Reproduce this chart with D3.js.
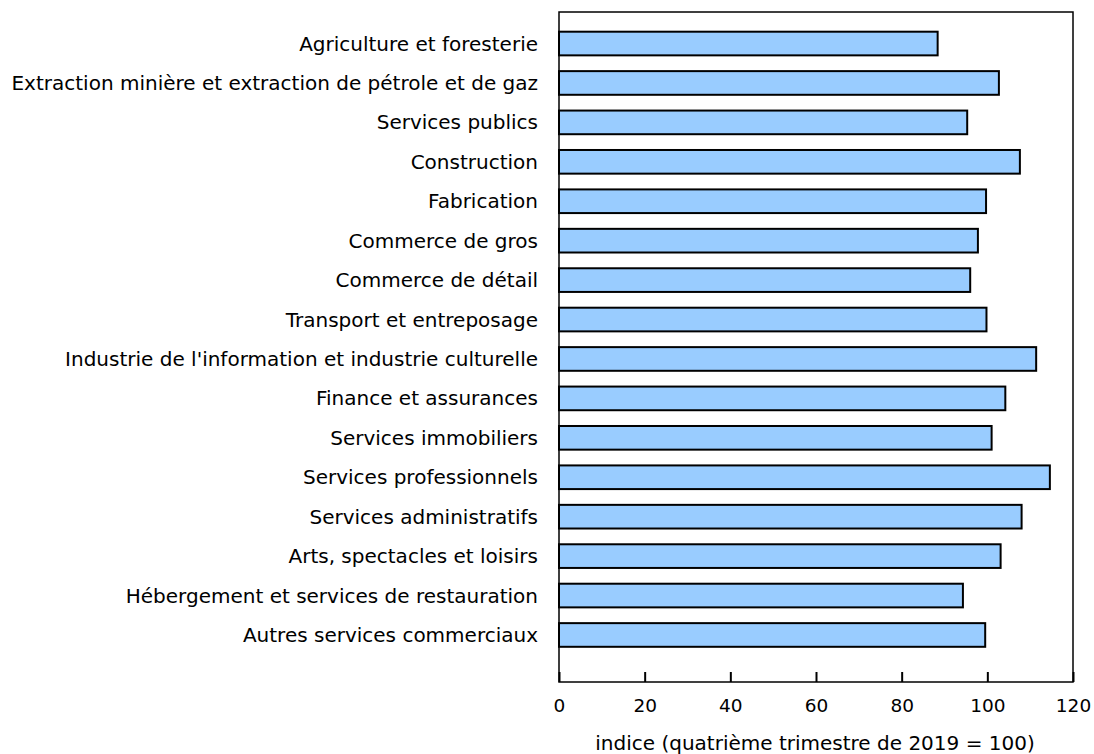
<!DOCTYPE html>
<html>
<head>
<meta charset="utf-8">
<script src="https://cdn.jsdelivr.net/npm/d3@7/dist/d3.min.js"></script>
<style>
  body { margin: 0; background: #fff; }
  svg { display: block; }
  text { font-family: "DejaVu Sans", Verdana, sans-serif; fill: #000; }
</style>
</head>
<body>
<svg id="chart" width="1094" height="754"></svg>
<script>
const categories = [
  "Agriculture et foresterie",
  "Extraction minière et extraction de pétrole et de gaz",
  "Services publics",
  "Construction",
  "Fabrication",
  "Commerce de gros",
  "Commerce de détail",
  "Transport et entreposage",
  "Industrie de l'information et industrie culturelle",
  "Finance et assurances",
  "Services immobiliers",
  "Services professionnels",
  "Services administratifs",
  "Arts, spectacles et loisirs",
  "Hébergement et services de restauration",
  "Autres services commerciaux"
];
const values = [88.4, 102.7, 95.3, 107.6, 99.7, 97.8, 96.0, 99.8, 111.4, 104.2, 101.0, 114.6, 108.0, 103.1, 94.3, 99.5];
const xTicks = [0, 20, 40, 60, 80, 100, 120];
const xTitle = "indice (quatrième trimestre de 2019 = 100)";

const svg = d3.select("#chart");
const frame = { left: 559, right: 1073, top: 12, bottom: 682 };

const x = d3.scaleLinear().domain([0, 120]).range([frame.left, frame.right]);
const y = d3.scaleBand().domain(categories).range([31.7, 646.8]).paddingInner(0.4).paddingOuter(0);

// bars
svg.append("g").selectAll("rect").data(values).join("rect")
  .attr("x", x(0))
  .attr("y", (d, i) => y(categories[i]))
  .attr("width", d => x(d) - x(0))
  .attr("height", y.bandwidth())
  .attr("fill", "#99CCFF")
  .attr("stroke", "#000")
  .attr("stroke-width", 2);

// frame
svg.append("rect")
  .attr("x", frame.left).attr("y", frame.top)
  .attr("width", frame.right - frame.left).attr("height", frame.bottom - frame.top)
  .attr("fill", "none").attr("stroke", "#000").attr("stroke-width", 1.5);

// x axis (ticks inward)
const xAxis = d3.axisBottom(x).tickValues(xTicks).tickSize(-10).tickPadding(17).tickFormat(d3.format("d"));
const gx = svg.append("g").attr("transform", `translate(0,${frame.bottom})`).call(xAxis);
gx.select(".domain").remove();
gx.selectAll(".tick line").attr("stroke", "#000").attr("stroke-width", 2);
gx.selectAll(".tick text").attr("font-size", 18.5).attr("font-family", '"DejaVu Sans", Verdana, sans-serif').attr("fill", "#000");

// y labels
svg.append("g").selectAll("text").data(categories).join("text")
  .attr("x", frame.left - 21)
  .attr("y", d => y(d) + y.bandwidth() / 2)
  .attr("text-anchor", "end")
  .attr("dominant-baseline", "central")
  .attr("font-size", 20)
  .text(d => d);

// x title
svg.append("text")
  .attr("x", (frame.left + frame.right) / 2 - 1)
  .attr("y", 743)
  .attr("text-anchor", "middle")
  .attr("dominant-baseline", "central")
  .attr("font-size", 20)
  .text(xTitle);
</script>
</body>
</html>
